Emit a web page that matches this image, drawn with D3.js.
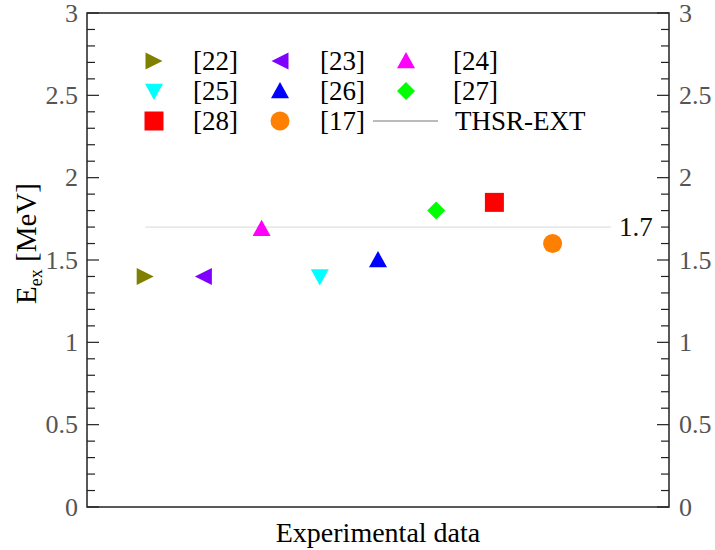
<!DOCTYPE html>
<html>
<head>
<meta charset="utf-8">
<script src="https://cdn.jsdelivr.net/npm/d3@7"></script>
<style>
  body { margin: 0; background: #fff; }
</style>
</head>
<body>
<div id="chart"></div>
<script>
// data
let refs = ['[22]', '[23]', '[24]', '[25]', '[26]', '[27]', '[28]', '[17]'];
let energies = [1.4, 1.4, 1.69, 1.4, 1.5, 1.8, 1.85, 1.6];
let shapes = ['right', 'left', 'up', 'down', 'up', 'diamond', 'square', 'circle'];
let colors = ['#808000', '#8000ff', '#ff00ff', '#00ffff', '#0000ff', '#00ff00', '#ff0000', '#ff8000'];
let thsrValue = 1.7;
let thsrLabel = 'THSR-EXT';
let yTicks = [0, 0.5, 1, 1.5, 2, 2.5, 3];
let yTickLabels = ['0', '0.5', '1', '1.5', '2', '2.5', '3'];

let svgWidth = 715, svgHeight = 550;
let margin = { top: 13, right: 46, bottom: 43, left: 87 };
let width = svgWidth - margin.left - margin.right;
let height = svgHeight - margin.top - margin.bottom;

let svg = d3.select('#chart').append('svg')
    .attr('width', svgWidth)
    .attr('height', svgHeight)
    .attr('font-family', '"Liberation Serif", "Times New Roman", "DejaVu Serif", serif');

let g = svg.append('g')
    .attr('transform', 'translate(' + margin.left + ',' + margin.top + ')');

let x = d3.scaleLinear().domain([0, 10]).range([0, width]);
let y = d3.scaleLinear().domain([0, 3]).range([height, 0]);

function markerPath(shape, s) {
    let h = s / 2;
    if (shape === 'right') return `M${-h},${-h}L${h},0L${-h},${h}Z`;
    if (shape === 'left') return `M${h},${-h}L${-h},0L${h},${h}Z`;
    if (shape === 'up') return `M0,${-h}L${h},${h * 0.8}L${-h},${h * 0.8}Z`;
    if (shape === 'down') return `M0,${h}L${h},${-h * 0.8}L${-h},${-h * 0.8}Z`;
    if (shape === 'diamond') return `M0,${-h}L${h},0L0,${h}L${-h},0Z`;
    if (shape === 'square') return `M${-h},${-h}H${h}V${h}H${-h}Z`;
    return d3.arc()({ innerRadius: 0, outerRadius: h, startAngle: 0, endAngle: 2 * Math.PI });
}
let sizes = { right: 17, left: 17, up: 18, down: 18, diamond: 18, square: 19, circle: 19 };

// THSR-EXT reference line
g.append('line')
    .attr('x1', x(1)).attr('x2', x(9))
    .attr('y1', y(thsrValue)).attr('y2', y(thsrValue))
    .attr('stroke', '#e0e0e0')
    .attr('stroke-width', 1.2);

g.append('text')
    .attr('x', x(9.72))
    .attr('y', y(thsrValue))
    .attr('dy', '0.33em')
    .attr('text-anchor', 'end')
    .style('font-size', '27px')
    .attr('fill', '#111')
    .text(String(thsrValue));

// markers
g.selectAll('.mark')
    .data(energies)
    .enter().append('path')
    .attr('class', 'mark')
    .attr('transform', (d, i) => 'translate(' + x(i + 1) + ',' + y(d) + ')')
    .attr('d', (d, i) => markerPath(shapes[i], sizes[shapes[i]]))
    .attr('fill', (d, i) => colors[i]);

// axes: inward ticks on both sides
let minor = d3.range(0, 3.0001, 0.1).map(v => Math.round(v * 10) / 10);
let isMajor = v => Math.abs(v * 2 - Math.round(v * 2)) < 1e-6;

g.selectAll('.tickL')
    .data(minor)
    .enter().append('line')
    .attr('x1', 0).attr('x2', d => isMajor(d) ? 12 : 8)
    .attr('y1', d => y(d)).attr('y2', d => y(d))
    .attr('stroke', '#222').attr('stroke-width', 1.2);

g.selectAll('.tickR')
    .data(minor)
    .enter().append('line')
    .attr('x1', width).attr('x2', d => width - (isMajor(d) ? 12 : 8))
    .attr('y1', d => y(d)).attr('y2', d => y(d))
    .attr('stroke', '#222').attr('stroke-width', 1.2);

g.selectAll('.labL')
    .data(yTicks)
    .enter().append('text')
    .attr('x', -9)
    .attr('y', d => y(d))
    .attr('dy', '0.33em')
    .attr('text-anchor', 'end')
    .attr('fill', '#555')
    .style('font-size', '26px')
    .text((d, i) => yTickLabels[i]);

g.selectAll('.labR')
    .data(yTicks)
    .enter().append('text')
    .attr('x', width + 10)
    .attr('y', d => y(d))
    .attr('dy', '0.33em')
    .attr('text-anchor', 'start')
    .attr('fill', '#555')
    .style('font-size', '26px')
    .text((d, i) => yTickLabels[i]);

g.append('rect')
    .attr('x', 0).attr('y', 0)
    .attr('width', width).attr('height', height)
    .attr('fill', 'none')
    .attr('stroke', '#222')
    .attr('stroke-width', 1.5);

// axis titles
g.append('text')
    .attr('x', width / 2)
    .attr('y', height + 35)
    .attr('text-anchor', 'middle')
    .style('font-size', '28px')
    .text('Experimental data');

let yTitle = svg.append('text')
    .attr('transform', 'translate(36,' + (margin.top + y(1.6)) + ') rotate(-90)')
    .attr('text-anchor', 'middle')
    .style('font-size', '29px');
yTitle.append('tspan').text('E');
yTitle.append('tspan').attr('dy', 6).style('font-size', '18px').text('ex');
yTitle.append('tspan').attr('dy', -6).text(' [MeV]');

// legend: 3 columns
let legendRows = [61, 91, 121];
let legendSym = [154, 280, 406];
let legendTxt = [193, 320, 453];
let legend = svg.append('g');

refs.forEach((r, i) => {
    let col = i % 3, row = Math.floor(i / 3);
    legend.append('path')
        .attr('transform', 'translate(' + legendSym[col] + ',' + legendRows[row] + ')')
        .attr('d', markerPath(shapes[i], sizes[shapes[i]]))
        .attr('fill', colors[i]);
    legend.append('text')
        .attr('x', legendTxt[col])
        .attr('y', legendRows[row])
        .attr('dy', '0.35em')
        .style('font-size', '27px')
        .text(r);
});

legend.append('line')
    .attr('x1', 373).attr('x2', 438)
    .attr('y1', legendRows[2]).attr('y2', legendRows[2])
    .attr('stroke', '#777').attr('stroke-width', 1);
legend.append('text')
    .attr('x', 455)
    .attr('y', legendRows[2])
    .attr('dy', '0.35em')
    .style('font-size', '27px')
    .text(thsrLabel);
</script>
</body>
</html>
